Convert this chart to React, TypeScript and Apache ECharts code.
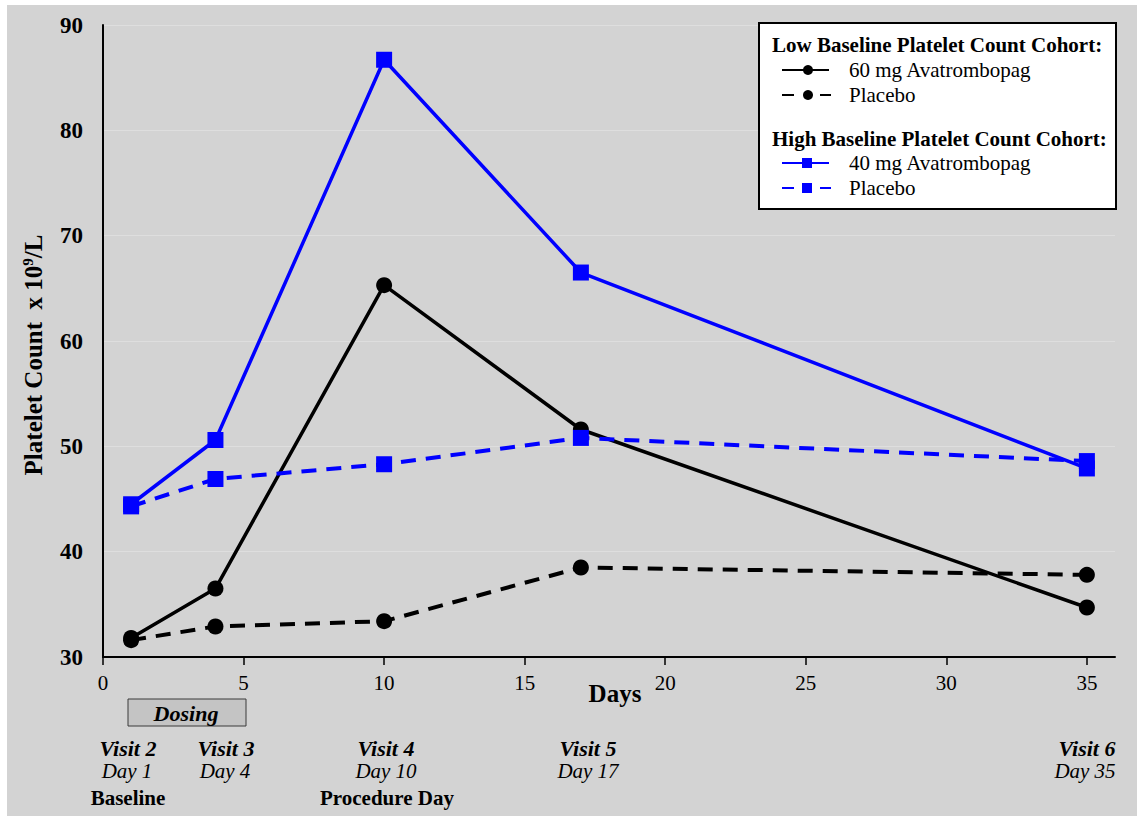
import React, { useEffect, useRef } from "react";
import * as echarts from "echarts";

const days = [1, 4, 10, 17, 35];
const low60 = [31.8, 36.5, 65.3, 51.6, 34.7];
const lowPlacebo = [31.6, 32.9, 33.4, 38.5, 37.8];
const high40 = [44.5, 50.6, 86.7, 66.5, 47.9];
const highPlacebo = [44.3, 46.9, 48.3, 50.8, 48.6];
const xTicks = [0, 5, 10, 15, 20, 25, 30, 35];

const visitNames = ["Visit 2", "Visit 3", "Visit 4", "Visit 5", "Visit 6"];
const dayNames = ["Day 1", "Day 4", "Day 10", "Day 17", "Day 35"];
const phaseNames = ["Baseline", "Procedure Day"];
const legendHeadings = ["Low Baseline Platelet Count Cohort:", "High Baseline Platelet Count Cohort:"];
const seriesNames = ["60 mg Avatrombopag", "Placebo", "40 mg Avatrombopag", "Placebo"];

const FONT = '"Liberation Serif", "Times New Roman", serif';

export default function App() {
  const ref = useRef<HTMLDivElement>(null);
  useEffect(() => {
    document.body.style.margin = "0";
    const chart = echarts.init(ref.current!, undefined, { renderer: "svg" });
    const pts = (vals: number[]) => days.map((d, i) => [d, vals[i]]);

    const visitX = [128, 226, 386, 588, 1087];
    const dayX = [127, 225, 386, 588, 1085];
    const phaseX = [128, 387];

    const graphics: any[] = [
      { type: "rect", z: -100, shape: { x: 7, y: 5, width: 1130, height: 811 }, style: { fill: "#d3d3d3" }, silent: true },
      {
        type: "text",
        x: 33,
        y: 355,
        rotation: Math.PI / 2,
        style: {
          text: "{a|Platelet Count  x 10}{s|9}{a|/L}",
          align: "center",
          verticalAlign: "middle",
          rich: {
            a: { fontFamily: FONT, fontSize: 25, fontWeight: "bold", fill: "#000" },
            s: { fontFamily: FONT, fontSize: 15, fontWeight: "bold", fill: "#000", verticalAlign: "top", padding: [0, 0, 9, 0] },
          },
        },
      },
      { type: "text", x: 615, y: 693, style: { text: "Days", fontFamily: FONT, fontSize: 25, fontWeight: "bold", fill: "#000", align: "center", verticalAlign: "middle" } },
      { type: "rect", shape: { x: 128, y: 699, width: 118, height: 27 }, style: { fill: "#c4c4c4", stroke: "#3a3a3a", lineWidth: 1 } },
      { type: "text", x: 186, y: 713, style: { text: "Dosing", fontFamily: FONT, fontSize: 22, fontWeight: "bold", fontStyle: "italic", fill: "#000", align: "center", verticalAlign: "middle" } },
    ];
    visitNames.forEach((t, i) => {
      graphics.push({ type: "text", x: visitX[i], y: 748, style: { text: t, fontFamily: FONT, fontSize: 22, fontWeight: "bold", fontStyle: "italic", fill: "#000", align: "center", verticalAlign: "middle" } });
    });
    dayNames.forEach((t, i) => {
      graphics.push({ type: "text", x: dayX[i], y: 771, style: { text: t, fontFamily: FONT, fontSize: 21, fontStyle: "italic", fill: "#000", align: "center", verticalAlign: "middle" } });
    });
    phaseNames.forEach((t, i) => {
      graphics.push({ type: "text", x: phaseX[i], y: 798, style: { text: t, fontFamily: FONT, fontSize: 21, fontWeight: "bold", fill: "#000", align: "center", verticalAlign: "middle" } });
    });

    graphics.push({ type: "rect", z: 10, shape: { x: 759, y: 23, width: 357, height: 186 }, style: { fill: "#fff", stroke: "#000", lineWidth: 2 } });
    const headY = [45, 139];
    legendHeadings.forEach((t, i) => {
      graphics.push({ type: "text", z: 11, x: 772, y: headY[i], style: { text: t, fontFamily: FONT, fontSize: 21, fontWeight: "bold", fill: "#000", align: "left", verticalAlign: "middle" } });
    });
    const itemY = [70, 95, 163, 188];
    const itemColor = ["#000", "#000", "#0000ff", "#0000ff"];
    const itemDashed = [false, true, false, true];
    const itemSquare = [false, false, true, true];
    seriesNames.forEach((t, i) => {
      const y = itemY[i];
      const c = itemColor[i];
      if (itemDashed[i]) {
        graphics.push({ type: "line", z: 11, shape: { x1: 782, y1: y, x2: 794, y2: y }, style: { stroke: c, lineWidth: 2 } });
        graphics.push({ type: "line", z: 11, shape: { x1: 820, y1: y, x2: 831, y2: y }, style: { stroke: c, lineWidth: 2 } });
      } else {
        graphics.push({ type: "line", z: 11, shape: { x1: 782, y1: y, x2: 829, y2: y }, style: { stroke: c, lineWidth: 2 } });
      }
      if (itemSquare[i]) {
        graphics.push({ type: "rect", z: 12, shape: { x: 802, y: y - 5, width: 10, height: 10 }, style: { fill: c } });
      } else {
        graphics.push({ type: "circle", z: 12, shape: { cx: 808, cy: y, r: 5 }, style: { fill: c } });
      }
      graphics.push({ type: "text", z: 11, x: 849, y: y, style: { text: t, fontFamily: FONT, fontSize: 21, fill: "#000", align: "left", verticalAlign: "middle" } });
    });

    chart.setOption({
      animation: false,
      backgroundColor: "#ffffff",
      grid: { left: 103, top: 25, right: 22, bottom: 159, containLabel: false },
      xAxis: {
        type: "value",
        min: 0,
        max: 36,
        interval: 5,
        axisLine: { show: true, onZero: false, lineStyle: { color: "#000", width: 2 } },
        axisTick: { show: true, customValues: xTicks, length: 8, lineStyle: { color: "#000", width: 1.5 } },
        axisLabel: { customValues: xTicks, fontFamily: FONT, fontSize: 21, color: "#000", margin: 15 },
        splitLine: { show: false },
      },
      yAxis: {
        type: "value",
        min: 30,
        max: 90,
        interval: 10,
        axisLine: { show: true, lineStyle: { color: "#000", width: 2 } },
        axisTick: { show: false },
        axisLabel: { fontFamily: FONT, fontSize: 23, fontWeight: "bold", color: "#000", margin: 20 },
        splitLine: { show: true, lineStyle: { color: "#dedede", width: 1 } },
      },
      graphic: graphics,
      series: [
        {
          name: "60 mg Avatrombopag", type: "line", data: pts(low60), symbol: "circle", symbolSize: 16,
          lineStyle: { color: "#000", width: 3.5 }, itemStyle: { color: "#000" },
        },
        {
          name: "Placebo (low)", type: "line", data: pts(lowPlacebo), symbol: "circle", symbolSize: 16,
          lineStyle: { color: "#000", width: 4, type: [15, 10] }, itemStyle: { color: "#000" },
        },
        {
          name: "40 mg Avatrombopag", type: "line", data: pts(high40), symbol: "rect", symbolSize: 16,
          lineStyle: { color: "#0000ff", width: 3.5 }, itemStyle: { color: "#0000ff" },
        },
        {
          name: "Placebo (high)", type: "line", data: pts(highPlacebo), symbol: "rect", symbolSize: 16,
          lineStyle: { color: "#0000ff", width: 4, type: [15, 10] }, itemStyle: { color: "#0000ff" },
        },
      ],
    });
    return () => chart.dispose();
  }, []);
  return <div ref={ref} style={{ width: 1137, height: 816 }} />;
}
